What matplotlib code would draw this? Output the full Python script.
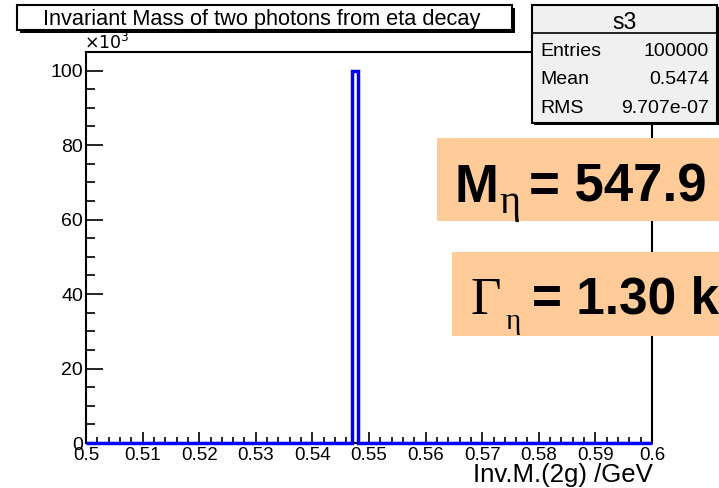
# Invariant mass of the two photons from eta decay, drawn ROOT-style:
# histogram with title box, stats box and the PDG values overlaid.

import numpy as np
import matplotlib
matplotlib.use("Agg")
import matplotlib.pyplot as plt
from matplotlib.patches import Rectangle
from matplotlib.ticker import MultipleLocator, FuncFormatter

# histogram contents (GeV edges, counts)
bin_edges = [0.5, 0.547, 0.548, 0.6]
bin_counts = [0, 100000, 0]

title = "Invariant Mass of two photons from eta decay"
xlabel = "Inv.M.(2g) /GeV"
stats_name = "s3"
stats_rows = [("Entries", "100000"), ("Mean", "0.5474"), ("RMS", "9.707e-07")]
mass_value = "547.9 MeV"
width_value = "1.30 keV"

W, H = 719, 488
SANS = "Liberation Sans"
SERIF = "Liberation Serif"
ORANGE = "#ffcc99"


def fx(px):
    return px / W


def fy(py):
    return 1 - py / H


def box(fig, x0, y0, x1, y1, face, shadow=3, lw=1.5):
    """Box in pixel coords with a ROOT-like drop shadow."""
    if shadow:
        fig.patches.append(Rectangle((fx(x0 + shadow), fy(y1 + shadow)),
                                     fx(x1 - x0), (y1 - y0) / H,
                                     transform=fig.transFigure,
                                     facecolor="black", edgecolor="none"))
    fig.patches.append(Rectangle((fx(x0), fy(y1)), fx(x1 - x0), (y1 - y0) / H,
                                 transform=fig.transFigure,
                                 facecolor=face, edgecolor="black", linewidth=lw))


fig = plt.figure(figsize=(W / 100, H / 100), dpi=100)
ax = fig.add_axes([fx(86), fy(443), fx(652 - 86), (443 - 52) / H])

ax.stairs(bin_counts, bin_edges, color="#0000ff", linewidth=2.5,
          baseline=0, clip_on=False, zorder=5)

ax.set_xlim(0.5, 0.6)
ax.set_ylim(0, 1.05 * max(bin_counts))
ax.xaxis.set_major_locator(MultipleLocator(0.01))
ax.xaxis.set_minor_locator(MultipleLocator(0.002))
ax.yaxis.set_major_locator(MultipleLocator(20000))
ax.yaxis.set_minor_locator(MultipleLocator(5000))
ax.xaxis.set_major_formatter(FuncFormatter(lambda v, p: f"{v:g}"))
ax.yaxis.set_major_formatter(FuncFormatter(lambda v, p: f"{v / 1000:g}"))

for s in ax.spines.values():
    s.set_linewidth(1.5)
ax.tick_params(axis="x", which="major", direction="in", length=8, width=1.2,
               labelsize=13.5, pad=3)
ax.tick_params(axis="x", which="minor", direction="in", length=4.3, width=1.2)
ax.tick_params(axis="y", which="major", direction="in", length=12, width=1.2,
               labelsize=14, pad=2)
ax.tick_params(axis="y", which="minor", direction="in", length=6.5, width=1.2)
for lab in ax.get_xticklabels() + ax.get_yticklabels():
    lab.set_family(SANS)

fig.text(fx(84), fy(49), r"$\times10^{3}$", fontsize=12.5, family=SANS,
         ha="left", va="baseline")
fig.text(fx(653), fy(482), xlabel, fontsize=18.5, family=SANS,
         ha="right", va="baseline")

# title box
box(fig, 17, 5, 512, 30, "white")
fig.text(fx(43), fy(25), title, fontsize=15.7, family=SANS,
         ha="left", va="baseline", zorder=4)

# stats box
box(fig, 532, 5, 717, 123, "#f0f0f0", shadow=2)
fig.lines.append(plt.Line2D([fx(532), fx(717)], [fy(33), fy(33)],
                            transform=fig.transFigure, color="black", lw=1.2))
fig.text(fx(624), fy(29), stats_name, fontsize=16.5, family=SANS,
         ha="center", va="baseline", zorder=4)
for i, (name, val) in enumerate(stats_rows):
    yb = 56 + i * 28.5
    fig.text(fx(540), fy(yb), name, fontsize=14, family=SANS,
             ha="left", va="baseline", zorder=4)
    fig.text(fx(709), fy(yb), val, fontsize=14, family=SANS,
             ha="right", va="baseline", zorder=4)

# eta mass
box(fig, 437, 138, 725, 221, ORANGE, shadow=0, lw=0)
fig.text(fx(454), fy(202), "M", fontsize=38, family=SANS, weight="bold",
         ha="left", va="baseline", zorder=4)
fig.text(fx(499), fy(213), "\u03b7", fontsize=29, family=SERIF,
         ha="left", va="baseline", zorder=4)
fig.text(fx(529), fy(202), "= " + mass_value, fontsize=38, family=SANS,
         weight="bold", ha="left", va="baseline", zorder=4)

# eta width
box(fig, 452, 252, 725, 336, ORANGE, shadow=0, lw=0)
fig.text(fx(470), fy(314), "\u0393", fontsize=38, family=SERIF,
         ha="left", va="baseline", zorder=4)
fig.text(fx(506), fy(329), "\u03b7", fontsize=21, family=SERIF,
         ha="left", va="baseline", zorder=4)
fig.text(fx(532), fy(314), "= " + width_value, fontsize=37, family=SANS,
         weight="bold", ha="left", va="baseline", zorder=4)

fig.savefig("out.png", dpi=100)
